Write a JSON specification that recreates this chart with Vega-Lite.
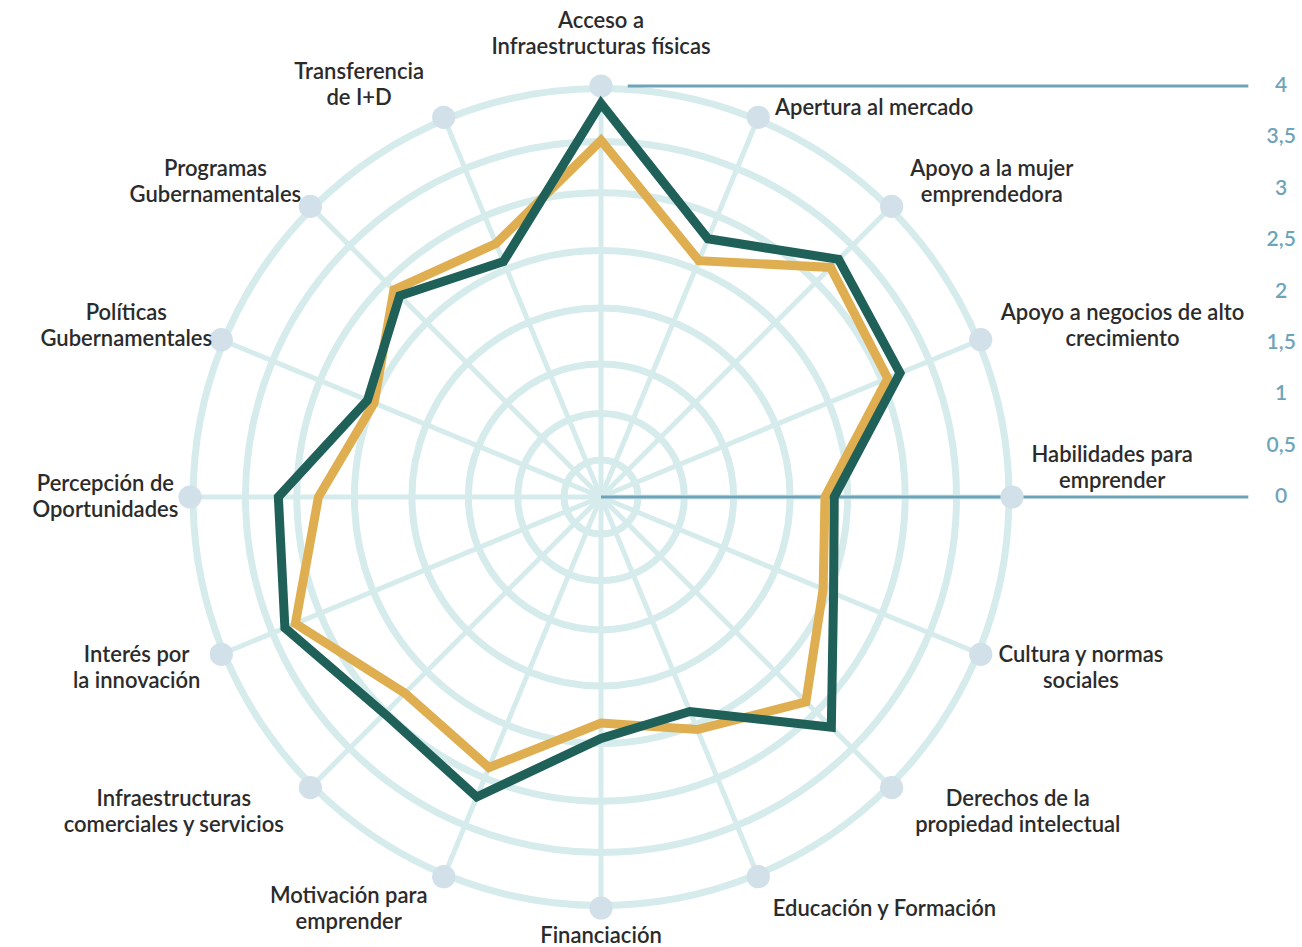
{
  "$schema": "https://vega.github.io/schema/vega-lite/v6.json",
  "width": 822,
  "height": 822,
  "autosize": {"type": "none"},
  "padding": {"left": 190, "top": 86, "right": 290, "bottom": 39},
  "background": "white",
  "config": {"view": {"stroke": null}},
  "datasets": {
    "cats": [
      {"idx": 0, "label": "Acceso a\nInfraestructuras físicas"},
      {"idx": 1, "label": "Apertura al mercado"},
      {"idx": 2, "label": "Apoyo a la mujer\nemprendedora"},
      {"idx": 3, "label": "Apoyo a negocios de alto\ncrecimiento"},
      {"idx": 4, "label": "Habilidades para\nemprender"},
      {"idx": 5, "label": "Cultura y normas\nsociales"},
      {"idx": 6, "label": "Derechos de la\npropiedad intelectual"},
      {"idx": 7, "label": "Educación y Formación"},
      {"idx": 8, "label": "Financiación"},
      {"idx": 9, "label": "Motivación para\nemprender"},
      {"idx": 10, "label": "Infraestructuras\ncomerciales y servicios"},
      {"idx": 11, "label": "Interés por\nla innovación"},
      {"idx": 12, "label": "Percepción de\nOportunidades"},
      {"idx": 13, "label": "Políticas\nGubernamentales"},
      {"idx": 14, "label": "Programas\nGubernamentales"},
      {"idx": 15, "label": "Transferencia\nde I+D"}
    ],
    "scores": [
      {"idx": 0, "serie": "A", "valor": 3.83}, {"idx": 0, "serie": "B", "valor": 3.47},
      {"idx": 1, "serie": "A", "valor": 2.72}, {"idx": 1, "serie": "B", "valor": 2.49},
      {"idx": 2, "serie": "A", "valor": 3.27}, {"idx": 2, "serie": "B", "valor": 3.16},
      {"idx": 3, "serie": "A", "valor": 3.15}, {"idx": 3, "serie": "B", "valor": 3.02},
      {"idx": 4, "serie": "A", "valor": 2.27}, {"idx": 4, "serie": "B", "valor": 2.18},
      {"idx": 5, "serie": "A", "valor": 2.45}, {"idx": 5, "serie": "B", "valor": 2.34},
      {"idx": 6, "serie": "A", "valor": 3.17}, {"idx": 6, "serie": "B", "valor": 2.82},
      {"idx": 7, "serie": "A", "valor": 2.26}, {"idx": 7, "serie": "B", "valor": 2.45},
      {"idx": 8, "serie": "A", "valor": 2.35}, {"idx": 8, "serie": "B", "valor": 2.2},
      {"idx": 9, "serie": "A", "valor": 3.16}, {"idx": 9, "serie": "B", "valor": 2.85},
      {"idx": 10, "serie": "A", "valor": 2.98}, {"idx": 10, "serie": "B", "valor": 2.7},
      {"idx": 11, "serie": "A", "valor": 3.33}, {"idx": 11, "serie": "B", "valor": 3.22},
      {"idx": 12, "serie": "A", "valor": 3.14}, {"idx": 12, "serie": "B", "valor": 2.75},
      {"idx": 13, "serie": "A", "valor": 2.46}, {"idx": 13, "serie": "B", "valor": 2.39},
      {"idx": 14, "serie": "A", "valor": 2.77}, {"idx": 14, "serie": "B", "valor": 2.85},
      {"idx": 15, "serie": "A", "valor": 2.48}, {"idx": 15, "serie": "B", "valor": 2.67}
    ],
    "rings": [
      {"r": 0.36}, {"r": 0.81}, {"r": 1.29}, {"r": 1.84},
      {"r": 2.4}, {"r": 2.96}, {"r": 3.46}, {"r": 3.97}
    ],
    "ticks": [
      {"v": 0}, {"v": 0.5}, {"v": 1}, {"v": 1.5}, {"v": 2},
      {"v": 2.5}, {"v": 3}, {"v": 3.5}, {"v": 4}
    ]
  },
  "layer": [
    {
      "data": {"name": "rings"},
      "mark": {"type": "point", "shape": "circle", "filled": false, "color": "#d6ebec", "strokeWidth": 7, "opacity": 1},
      "encoding": {
        "x": {"datum": 0, "type": "quantitative", "scale": {"domain": [-4, 4], "nice": false, "zero": false}, "axis": null},
        "y": {"datum": 0, "type": "quantitative", "scale": {"domain": [-4, 4], "nice": false, "zero": false}, "axis": null},
        "size": {"field": "r", "type": "quantitative", "scale": {"type": "pow", "exponent": 2, "domain": [0, 4], "range": [0, 675684], "zero": true, "nice": false}, "legend": null}
      }
    },
    {
      "data": {"name": "cats"},
      "transform": [
        {"calculate": "4*sin(datum.idx*PI/8)", "as": "sx"},
        {"calculate": "4*cos(datum.idx*PI/8)", "as": "sy"}
      ],
      "mark": {"type": "rule", "color": "#d6ebec", "strokeWidth": 5},
      "encoding": {
        "x": {"field": "sx", "type": "quantitative", "scale": {"domain": [-4, 4], "nice": false, "zero": false}, "axis": null},
        "y": {"field": "sy", "type": "quantitative", "scale": {"domain": [-4, 4], "nice": false, "zero": false}, "axis": null},
        "x2": {"datum": 0},
        "y2": {"datum": 0}
      }
    },
    {
      "data": {"values": [{}]},
      "mark": {"type": "rule", "color": "#6ea4ba", "strokeWidth": 3},
      "encoding": {
        "x": {"datum": 0.26, "type": "quantitative", "scale": {"domain": [-4, 4], "nice": false, "zero": false}, "axis": null},
        "x2": {"datum": 6.3},
        "y": {"datum": 4, "type": "quantitative", "scale": {"domain": [-4, 4], "nice": false, "zero": false}, "axis": null}
      }
    },
    {
      "data": {"values": [{}]},
      "mark": {"type": "rule", "color": "#6ea4ba", "strokeWidth": 3},
      "encoding": {
        "x": {"datum": 0, "type": "quantitative", "scale": {"domain": [-4, 4], "nice": false, "zero": false}, "axis": null},
        "x2": {"datum": 6.3},
        "y": {"datum": 0, "type": "quantitative", "scale": {"domain": [-4, 4], "nice": false, "zero": false}, "axis": null}
      }
    },
    {
      "data": {"name": "ticks"},
      "transform": [
        {"calculate": "replace(format(datum.v, '~g'), '.', ',')", "as": "txt"}
      ],
      "mark": {"type": "text", "align": "center", "baseline": "middle", "font": "Lato", "fontSize": 21, "fontWeight": 600, "color": "#6ea4ba"},
      "encoding": {
        "x": {"datum": 6.62, "type": "quantitative", "scale": {"domain": [-4, 4], "nice": false, "zero": false}, "axis": null},
        "y": {"field": "v", "type": "quantitative", "scale": {"domain": [-4, 4], "nice": false, "zero": false}, "axis": null},
        "text": {"field": "txt", "type": "nominal"}
      }
    },
    {
      "data": {"name": "cats"},
      "transform": [
        {"calculate": "4*sin(datum.idx*PI/8)", "as": "sx"},
        {"calculate": "4*cos(datum.idx*PI/8)", "as": "sy"}
      ],
      "mark": {"type": "point", "shape": "circle", "filled": true, "color": "#d2e1e9", "opacity": 1, "size": 540},
      "encoding": {
        "x": {"field": "sx", "type": "quantitative", "scale": {"domain": [-4, 4], "nice": false, "zero": false}, "axis": null},
        "y": {"field": "sy", "type": "quantitative", "scale": {"domain": [-4, 4], "nice": false, "zero": false}, "axis": null}
      }
    },
    {
      "data": {"name": "scores"},
      "transform": [
        {"filter": "datum.serie == 'B'"},
        {"calculate": "datum.valor*sin(datum.idx*PI/8)", "as": "px"},
        {"calculate": "datum.valor*cos(datum.idx*PI/8)", "as": "py"}
      ],
      "mark": {"type": "line", "interpolate": "linear-closed", "color": "#dfae50", "strokeWidth": 9, "strokeJoin": "miter"},
      "encoding": {
        "x": {"field": "px", "type": "quantitative", "scale": {"domain": [-4, 4], "nice": false, "zero": false}, "axis": null},
        "y": {"field": "py", "type": "quantitative", "scale": {"domain": [-4, 4], "nice": false, "zero": false}, "axis": null},
        "order": {"field": "idx", "type": "quantitative"}
      }
    },
    {
      "data": {"name": "scores"},
      "transform": [
        {"filter": "datum.serie == 'A'"},
        {"calculate": "datum.valor*sin(datum.idx*PI/8)", "as": "px"},
        {"calculate": "datum.valor*cos(datum.idx*PI/8)", "as": "py"}
      ],
      "mark": {"type": "line", "interpolate": "linear-closed", "color": "#1f6058", "strokeWidth": 9, "strokeJoin": "miter"},
      "encoding": {
        "x": {"field": "px", "type": "quantitative", "scale": {"domain": [-4, 4], "nice": false, "zero": false}, "axis": null},
        "y": {"field": "py", "type": "quantitative", "scale": {"domain": [-4, 4], "nice": false, "zero": false}, "axis": null},
        "order": {"field": "idx", "type": "quantitative"}
      }
    },
    {
      "data": {"name": "cats"},
      "transform": [
        {"calculate": "datum.idx*PI/8", "as": "a"},
        {"calculate": "split(datum.label, '\\n')", "as": "lines"},
        {"calculate": "length(datum.lines)", "as": "nl"},
        {"calculate": "max(length(datum.lines[0]), datum.nl > 1 ? length(datum.lines[1]) : 0)", "as": "mc"},
        {"calculate": "abs(sin(datum.a)) > 0.2", "as": "side"},
        {"calculate": "(datum.nl*13 + 3)/102.75", "as": "hh"},
        {"calculate": "4*sin(datum.a) + (datum.side ? (sin(datum.a) > 0 ? 1 : -1) * (17 + datum.mc*5.2) / 102.75 : 0)", "as": "lx"},
        {"calculate": "4*cos(datum.a) + (datum.side ? cos(datum.a)*35/102.75 : (cos(datum.a) > 0 ? (24 + datum.nl*14) : -(14 + datum.nl*14))/102.75)", "as": "ly0"},
        {"calculate": "(sin(datum.a) > 0.2 && abs(datum.ly0) < datum.hh) ? datum.hh : datum.ly0", "as": "ly1"},
        {"calculate": "(sin(datum.a) > 0.2 && datum.ly1 + datum.hh > 4) ? 4 - (datum.nl*13 + 9)/102.75 : datum.ly1", "as": "ly2"},
        {"calculate": "datum.ly2 + (datum.nl - 1)*13/102.75", "as": "ly"}
      ],
      "mark": {"type": "text", "align": "center", "baseline": "middle", "lineBreak": "\n", "lineHeight": 26, "font": "Lato", "fontSize": 22, "fontWeight": 600, "color": "#2b2b2b"},
      "encoding": {
        "x": {"field": "lx", "type": "quantitative", "scale": {"domain": [-4, 4], "nice": false, "zero": false}, "axis": null},
        "y": {"field": "ly", "type": "quantitative", "scale": {"domain": [-4, 4], "nice": false, "zero": false}, "axis": null},
        "text": {"field": "label", "type": "nominal"}
      }
    }
  ]
}
